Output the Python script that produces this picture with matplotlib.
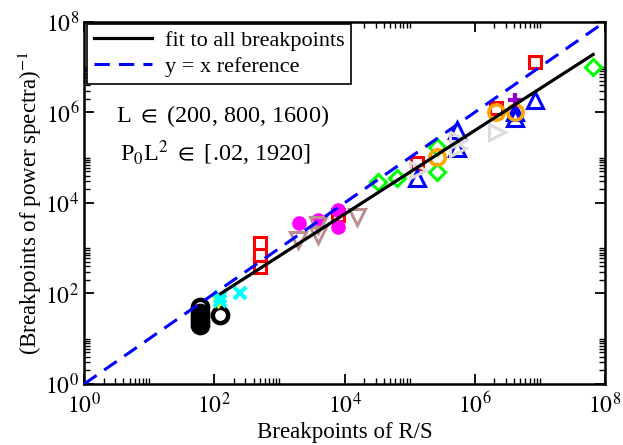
import numpy as np
import matplotlib
matplotlib.use("Agg")
import matplotlib.pyplot as plt
from matplotlib.ticker import FixedLocator, NullFormatter

plt.rcParams["font.family"] = ["Liberation Serif", "DejaVu Serif"]
plt.rcParams["mathtext.fontset"] = "stix"

# ------------ Breakpoints (R/S vs. inverse power spectra) ------------
black_x = [60, 60, 60, 60, 60, 123]
black_y = [20, 25, 30, 38, 50, 33]

yellow_x = [115]
yellow_y = [68]

cyan_x = [122, 122, 250]
cyan_y = [68, 84, 100]

red_x = [500, 500, 500, 8000, 131000, 2.1e6, 8.5e6]
red_y = [1300, 710, 385, 5400, 76000, 1.26e6, 1.3e7]

magenta_x = [2000, 3900, 8000, 8000]
magenta_y = [3600, 4200, 7000, 2950]

brown_x = [1950, 3900, 3900, 15600]
brown_y = [1500, 1950, 3300, 4900]

green_x = [33000, 64000, 265000, 265000, 6.6e7]
green_y = [29000, 36000, 174000, 49000, 1.0e7]

blue_x = [131000, 540000, 540000, 4.2e6, 4.2e6, 8.5e6]
blue_y = [36000, 410000, 165000, 760000, 1.0e6, 1.9e6]

gray_x = [135000, 560000, 560000, 2.2e6]
gray_y = [54000, 250000, 160000, 370000]

orange_x = [265000, 2.1e6, 4.2e6]
orange_y = [104000, 1.02e6, 1.02e6]

violet_x = [4.2e6]
violet_y = [1.9e6]

# fit line end points and y = x reference
fit_x = [125, 6.6e7]
fit_y = [99, 1.9e7]
ref_x = [1, 1e8]
ref_y = [1, 1e8]

fig = plt.figure(figsize=(6.23, 4.45), dpi=100)
ax = fig.add_axes([0.135, 0.137, 0.836, 0.814])

ms = 9
mew = 2.2
ax.plot(black_x, black_y, "o", ms=11, mfc="none", mec="black", mew=3.2, ls="none")
ax.plot(yellow_x, yellow_y, "v", ms=10, color="yellow", ls="none")
ax.plot(cyan_x, cyan_y, "x", ms=8, mew=3, color="cyan", ls="none")
ax.plot(red_x, red_y, "s", ms=ms, mfc="none", mec="red", mew=mew, ls="none")
ax.plot(magenta_x, magenta_y, "o", ms=9.5, color="magenta", ls="none")
ax.plot(brown_x, brown_y, "v", ms=11, mfc="none", mec="#bc8f8f", mew=mew, ls="none")
ax.plot(green_x, green_y, "D", ms=8, mfc="none", mec="#00ff00", mew=mew, ls="none")
ax.plot(blue_x, blue_y, "^", ms=11, mfc="none", mec="blue", mew=mew, ls="none")
ax.plot(gray_x, gray_y, ">", ms=11, mfc="none", mec="#dcdcdc", mew=mew, ls="none")
ax.plot(orange_x, orange_y, "o", ms=11, mfc="none", mec="orange", mew=2.6, ls="none")
ax.plot(violet_x, violet_y, "+", ms=10, mew=3, color="#9400d3", ls="none")

ax.plot(fit_x, fit_y, color="black", lw=2.3, zorder=5, label="fit to all breakpoints")
ax.plot(ref_x, ref_y, color="blue", lw=2.2, ls=(0, (5, 3)), zorder=5,
        label="y = x reference")

ax.set_xscale("log")
ax.set_yscale("log")
ax.set_xlim(1, 1e8)
ax.set_ylim(1, 1e8)

# majors every two decades, minors at 2..10 x major
majors = [10.0 ** k for k in range(0, 9, 2)]
minors = [m * 10.0 ** k for k in range(0, 8, 2) for m in range(2, 11)]
for axis in (ax.xaxis, ax.yaxis):
    axis.set_major_locator(FixedLocator(majors))
    axis.set_minor_locator(FixedLocator(minors))
    axis.set_minor_formatter(NullFormatter())
ax.set_xticklabels([r"$10^{%d}$" % k for k in range(0, 9, 2)])
ax.set_yticklabels([r"$10^{%d}$" % k for k in range(0, 9, 2)])

ax.tick_params(which="both", direction="in", top=True, right=True, labelsize=17)
ax.tick_params(which="major", length=7, width=1.3)
ax.tick_params(which="minor", length=4, width=1.0)
ax.tick_params(axis="x", which="major", pad=6)
for s in ax.spines.values():
    s.set_linewidth(1.8)

ax.set_xlabel("Breakpoints of R/S", fontsize=16.5, labelpad=3)
ax.set_ylabel(r"(Breakpoints of power spectra)$^{-1}$", fontsize=16.5, labelpad=1)

ax.text(0.265, 0.74, r"L $\in$ (200, 800, 1600)", transform=ax.transAxes,
        ha="center", va="center", fontsize=17.5)
ax.text(0.252, 0.638, r"P$_0$L$^2$ $\in$ [.02, 1920]", transform=ax.transAxes,
        ha="center", va="center", fontsize=17.5)

leg = ax.legend(loc="upper left", bbox_to_anchor=(0.006, 0.995), borderaxespad=0,
                fontsize=16, fancybox=False, framealpha=1, edgecolor="black",
                handlelength=2.6, labelspacing=0.25, borderpad=0.3, handletextpad=0.6)
leg.get_frame().set_linewidth(1.2)

fig.savefig("out.png", dpi=100)
